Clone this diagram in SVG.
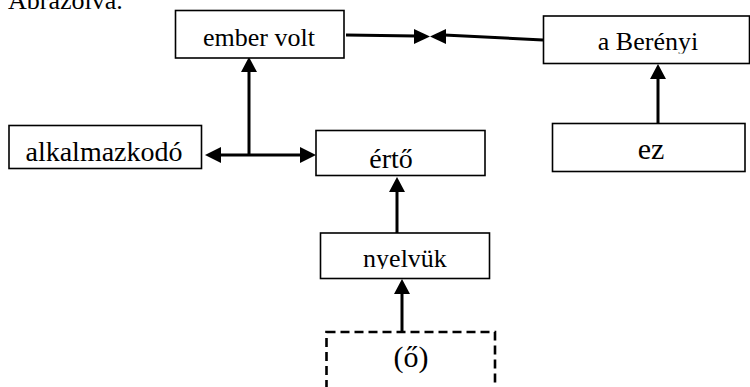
<svg xmlns="http://www.w3.org/2000/svg" width="750" height="387" viewBox="0 0 750 387">
<style>
.box{fill:#fff;stroke:#000;stroke-width:1.6}
.dash{fill:#fff;stroke:#000;stroke-width:2.6;stroke-dasharray:9 5}
.t{font-family:"Liberation Serif","Times New Roman","DejaVu Serif",serif;font-size:26px;fill:#000;text-anchor:middle}
.ln{stroke:#000;stroke-width:3;fill:none}
.ah{fill:#000}
</style>
<defs>
<clipPath id="cBer"><rect x="543" y="16" width="207" height="37.5"/></clipPath>
<clipPath id="cNy"><rect x="320" y="233" width="170" height="36"/></clipPath>
</defs>
<rect width="750" height="387" fill="#fff"/>
<text x="8" y="9" class="t" style="text-anchor:start">Ábrázolva.</text>
<g id="connectors">
<line class="ln" x1="346" y1="35" x2="416" y2="36"/>
<polygon class="ah" points="414,29 430,36.5 414,44"/>
<line class="ln" x1="444" y1="35" x2="543" y2="40"/>
<polygon class="ah" points="446,29 430,36.5 446,44"/>
<line class="ln" x1="249" y1="70" x2="249" y2="156"/>
<polygon class="ah" points="241,72 249,57 257,72"/>
<line class="ln" x1="220" y1="155" x2="302" y2="155"/>
<polygon class="ah" points="221,147 205,155 221,163"/>
<polygon class="ah" points="300,147 316,155 300,163"/>
<line class="ln" x1="658" y1="78" x2="658" y2="123"/>
<polygon class="ah" points="650,79 658,64 666,79"/>
<line class="ln" x1="397" y1="190" x2="397" y2="233"/>
<polygon class="ah" points="389,192 397,177 405,192"/>
<line class="ln" x1="402" y1="292" x2="402" y2="332"/>
<polygon class="ah" points="394,294 402,279 410,294"/>
</g>
<g id="n-ember"><rect class="box" x="175.5" y="10.5" width="168.5" height="47.5"/><text class="t" x="259" y="46">ember volt</text></g>
<g id="n-berenyi"><rect class="box" x="543.5" y="16" width="206" height="47.5"/><text class="t" x="648" y="50" clip-path="url(#cBer)">a Berényi</text></g>
<g id="n-alk"><rect class="box" x="9" y="125.5" width="192.5" height="43"/><text class="t" x="104" y="161" style="font-size:28px">alkalmazkodó</text></g>
<g id="n-erto"><rect class="box" x="316" y="130.5" width="169" height="45"/><text class="t" x="391" y="168" style="font-size:28px">értő</text></g>
<g id="n-ez"><rect class="box" x="552.5" y="123.5" width="192.5" height="48"/><text class="t" x="651" y="159" style="font-size:30px">ez</text></g>
<g id="n-nyelvuk"><rect class="box" x="320.5" y="233" width="169" height="45.5"/><text class="t" x="405" y="267" clip-path="url(#cNy)">nyelvük</text></g>
<g id="n-o"><rect class="dash" x="326.5" y="332" width="168.5" height="70"/><text class="t" x="411" y="367" style="font-size:30px">(ő)</text></g>
</svg>
